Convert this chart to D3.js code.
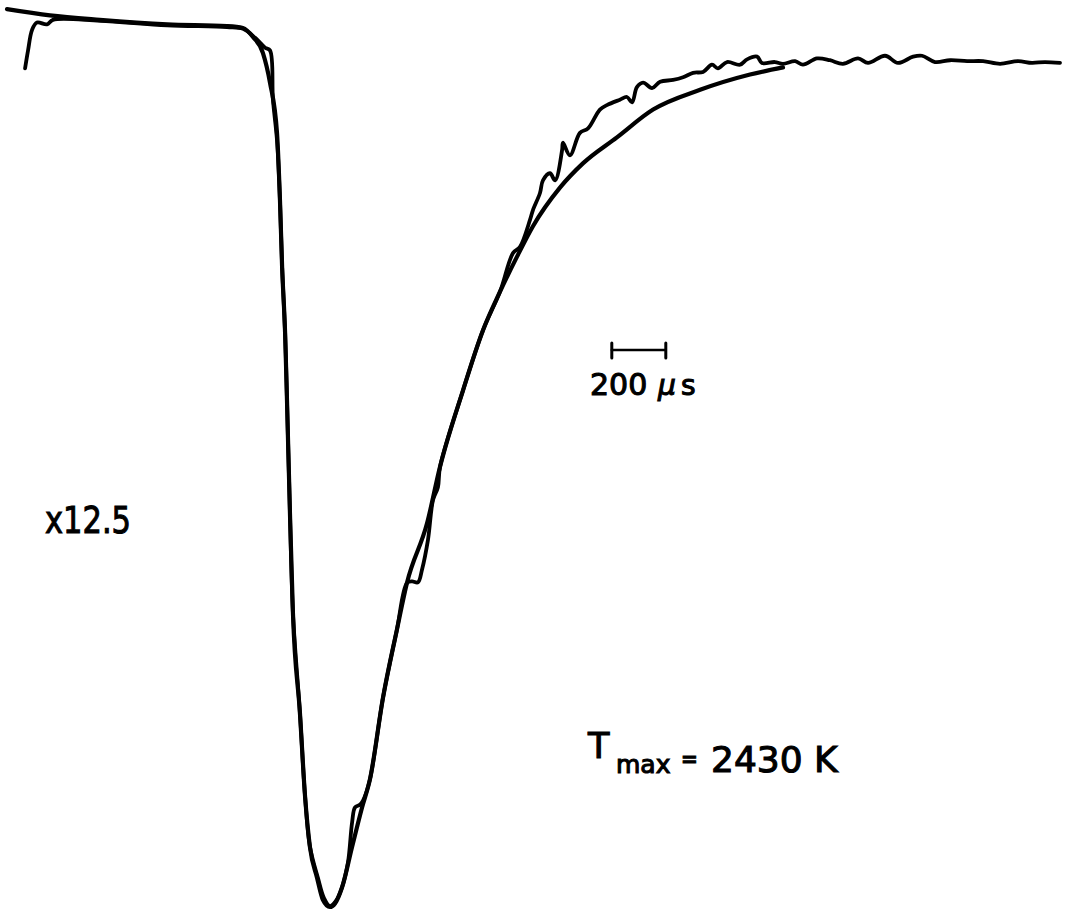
<!DOCTYPE html>
<html>
<head>
<meta charset="utf-8">
<script src="https://cdn.jsdelivr.net/npm/d3@7"></script>
<style>
    html, body { margin: 0; padding: 0; background: #fff; }
    svg { display: block; }
    text { font-family: 'DejaVu Sans', sans-serif; fill: #000; stroke: #000; stroke-width: 1.1px; }
</style>
</head>
<body>
<div id="chart"></div>
<script>
// time in microseconds, signal in arbitrary units (baseline ~100, minimum 0)
const fitTime = [0, 159, 344, 593, 815, 874, 911, 948, 974, 1000, 1011, 1019, 1030, 1037, 1048, 1059, 1085, 1104, 1122, 1148, 1170, 1196, 1215, 1241, 1278, 1315, 1344, 1393, 1444, 1481, 1556, 1604, 1689, 1763, 1826, 1889, 1948, 2048, 2133, 2259, 2393, 2567, 2752, 2874];
const fitSignal = [100.1, 99.4, 98.9, 98.4, 98.2, 98.0, 97.0, 95.2, 91.9, 86.3, 78.8, 71.3, 64.0, 56.5, 43.9, 32.8, 21.6, 12.3, 6.7, 3.3, 0.8, 0, 0.4, 2.2, 6.7, 11.1, 14.2, 23.4, 30.9, 36.1, 42.8, 49.1, 57.6, 64.3, 68.6, 72.5, 75.9, 80.2, 82.9, 85.8, 88.9, 91.1, 92.8, 93.6];

const traceTime = [67, 78, 93, 111, 148, 170, 344, 593, 815, 874, 919, 956, 974, 985, 1000, 1011, 1019, 1030, 1037, 1048, 1059, 1085, 1104, 1122, 1152, 1174, 1196, 1219, 1241, 1263, 1278, 1289, 1307, 1319, 1344, 1393, 1444, 1481, 1500, 1522, 1537, 1559, 1578, 1596, 1604, 1689, 1763, 1826, 1874, 1900, 1937, 1948, 1974, 1985, 2011, 2030, 2056, 2059, 2085, 2122, 2152, 2196, 2222, 2270, 2296, 2315, 2333, 2356, 2389, 2419, 2467, 2504, 2541, 2578, 2611, 2633, 2667, 2715, 2741, 2778, 2796, 2844, 2874, 2919, 2948, 3000, 3048, 3096, 3152, 3189, 3252, 3300, 3356, 3389, 3437, 3493, 3556, 3615, 3678, 3744, 3796, 3844, 3900];
const traceSignal = [93.5, 95.5, 97.8, 98.6, 98.4, 98.9, 98.8, 98.3, 98.1, 97.9, 96.9, 95.8, 95.5, 90.0, 85.5, 78.8, 71.3, 64.0, 56.5, 43.9, 32.8, 21.6, 12.3, 6.7, 3.2, 1.0, 0.1, 0.7, 2.2, 5.0, 9.4, 11.1, 11.4, 11.9, 14.2, 23.4, 30.9, 36.1, 36.3, 36.2, 37.6, 40.9, 45.4, 46.8, 49.1, 57.6, 64.3, 68.6, 72.9, 73.6, 76.6, 77.7, 79.6, 81.0, 81.8, 81.0, 84.4, 85.2, 83.8, 86.3, 86.8, 88.9, 89.4, 90.0, 90.3, 89.7, 91.4, 91.9, 91.3, 92.0, 92.2, 92.5, 93.0, 93.1, 93.9, 93.5, 94.2, 93.9, 94.5, 94.8, 94.1, 94.2, 94.0, 94.3, 93.9, 94.6, 94.4, 94.0, 94.6, 94.1, 94.9, 94.1, 94.8, 94.9, 94.2, 94.4, 94.3, 94.3, 94.0, 94.3, 94.1, 94.2, 94.1];

// scale bar (200 us) and labels
const scaleBarStart = 2240;
const scaleBarLength = 200;
const scaleBarLevel = 62.1;
const scaleLabel = '200';
const scaleUnit = ['μ', 's'];
const gainLabel = 'x12.5';
const tempParts = ['T', 'max', '=', '2430 K'];

const width = 1065;
const height = 913;

const svg = d3.select('#chart')
    .append('svg')
    .attr('width', width)
    .attr('height', height);

const x = d3.scaleLinear()
    .domain([0, 3900])
    .range([7, 1060]);

const y = d3.scaleLinear()
    .domain([0, 100])
    .range([907, 10]);

const fit = d3.zip(fitTime, fitSignal);
const trace = d3.zip(traceTime, traceSignal);

// measured trace
svg.append('path')
    .attr('fill', 'none')
    .attr('stroke', '#000')
    .attr('stroke-width', 3.8)
    .attr('stroke-linejoin', 'round')
    .attr('stroke-linecap', 'round')
    .attr('d', d3.line()
        .curve(d3.curveCatmullRom.alpha(0.5))
        .x(d => x(d[0]))
        .y(d => y(d[1]))(trace));

// fitted curve
svg.append('path')
    .attr('fill', 'none')
    .attr('stroke', '#000')
    .attr('stroke-width', 4.2)
    .attr('stroke-linejoin', 'round')
    .attr('stroke-linecap', 'round')
    .attr('d', d3.line()
        .curve(d3.curveMonotoneX)
        .x(d => x(d[0]))
        .y(d => y(d[1]))(fit));

// scale bar
const bar = svg.append('g')
    .attr('stroke', '#000')
    .attr('stroke-linecap', 'round');

bar.append('line')
    .attr('x1', x(scaleBarStart))
    .attr('x2', x(scaleBarStart + scaleBarLength))
    .attr('y1', y(scaleBarLevel))
    .attr('y2', y(scaleBarLevel))
    .attr('stroke-width', 2.5);

bar.selectAll('.tick')
    .data([scaleBarStart, scaleBarStart + scaleBarLength])
    .join('line')
    .attr('class', 'tick')
    .attr('x1', d => x(d))
    .attr('x2', d => x(d))
    .attr('y1', y(scaleBarLevel) - 7)
    .attr('y2', y(scaleBarLevel) + 8)
    .attr('stroke-width', 3);

svg.append('text')
    .attr('x', 590)
    .attr('y', 395)
    .style('font-size', '30px')
    .text(scaleLabel);

svg.append('text')
    .attr('x', 658)
    .attr('y', 395)
    .style('font-size', '28px')
    .style('font-style', 'italic')
    .text(scaleUnit[0]);

svg.append('text')
    .attr('x', 681)
    .attr('y', 395)
    .style('font-size', '28px')
    .text(scaleUnit[1]);

// gain label
svg.append('text')
    .attr('x', 45)
    .attr('y', 533)
    .attr('textLength', 86)
    .attr('lengthAdjust', 'spacingAndGlyphs')
    .style('font-size', '38px')
    .text(gainLabel);

// T max label
svg.append('text')
    .attr('x', 588)
    .attr('y', 758)
    .style('font-size', '35px')
    .text(tempParts[0]);

svg.append('text')
    .attr('x', 616)
    .attr('y', 773)
    .style('font-size', '25px')
    .text(tempParts[1]);

svg.append('text')
    .attr('x', 681)
    .attr('y', 766)
    .style('font-size', '20px')
    .style('font-weight', 'bold')
    .text(tempParts[2]);

svg.append('text')
    .attr('x', 711)
    .attr('y', 772)
    .style('font-size', '36px')
    .text(tempParts[3]);
</script>
</body>
</html>
